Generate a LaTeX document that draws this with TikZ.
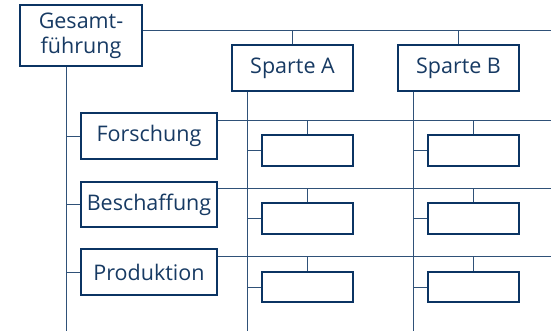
\documentclass[tikz,border=0pt]{standalone}
\usepackage{fontspec}
\setmainfont{Open Sans}
\definecolor{navy}{HTML}{0B3463}
\definecolor{textnavy}{HTML}{173A63}
\definecolor{wire}{HTML}{2F5178}
\begin{document}
\begin{tikzpicture}[x=1pt,y=-1pt,
  unit/.style={draw=navy,line width=1.4pt,fill=white,inner sep=0pt,
    text=textnavy,font=\fontsize{21.5}{25}\selectfont,align=center,
    minimum width=136pt,minimum height=46pt},
  slot/.style={draw=navy,line width=1.4pt,fill=white,inner sep=0pt,
    minimum width=91pt,minimum height=31pt},
  link/.style={draw=wire,line width=0.9pt}]
\useasboundingbox (0,0) rectangle (557,333);

% spines and rails
\coordinate (gspine) at (66,331);
\coordinate (aspine) at (247,331);
\coordinate (bspine) at (413,331);
\coordinate (top) at (551,30);
\coordinate (r1) at (551,120);
\coordinate (r2) at (551,188);
\coordinate (r3) at (551,256);

% top management
\node[unit,minimum width=122pt,minimum height=61pt] (G) at (81,35.5) {Gesamt-\\führung};

% divisions
\node[unit,minimum width=121pt] (A) at (292.5,68) {Sparte A};
\node[unit,minimum width=121pt] (B) at (458.5,68) {Sparte B};

% functions
\node[unit] (F) at (149,136) {Forschung};
\node[unit,minimum height=45pt] (S) at (149,204.5) {Beschaffung};
\node[unit] (P) at (149,272) {Produktion};

% cells of the matrix
\node[slot] (a1) at (307.5,150.5) {};
\node[slot] (a2) at (307.5,218.5) {};
\node[slot,minimum height=30pt] (a3) at (307.5,287) {};
\node[slot] (b1) at (473.5,150.5) {};
\node[slot] (b2) at (473.5,218.5) {};
\node[slot,minimum height=30pt] (b3) at (473.5,287) {};

% connectors
\draw[link] (G.east |- top) -- (top);
\draw[link] (A.north) -- (A.north |- top);
\draw[link] (B.north) -- (B.north |- top);
\draw[link] (G.south -| gspine) -- (gspine);
\draw[link] (A.south -| aspine) -- (aspine);
\draw[link] (B.south -| bspine) -- (bspine);
\draw[link] (F.west) -- (F.west -| gspine);
\draw[link] (S.west) -- (S.west -| gspine);
\draw[link] (P.west) -- (P.west -| gspine);
\draw[link] (F.east |- r1) -- (r1);
\draw[link] (S.east |- r2) -- (r2);
\draw[link] (P.east |- r3) -- (r3);
\draw[link] (a1.north) -- (a1.north |- r1);
\draw[link] (a2.north) -- (a2.north |- r2);
\draw[link] (a3.north) -- (a3.north |- r3);
\draw[link] (b1.north) -- (b1.north |- r1);
\draw[link] (b2.north) -- (b2.north |- r2);
\draw[link] (b3.north) -- (b3.north |- r3);
\draw[link] (a1.west) -- (a1.west -| aspine);
\draw[link] (a2.west) -- (a2.west -| aspine);
\draw[link] (a3.west) -- (a3.west -| aspine);
\draw[link] (b1.west) -- (b1.west -| bspine);
\draw[link] (b2.west) -- (b2.west -| bspine);
\draw[link] (b3.west) -- (b3.west -| bspine);
\end{tikzpicture}
\end{document}
